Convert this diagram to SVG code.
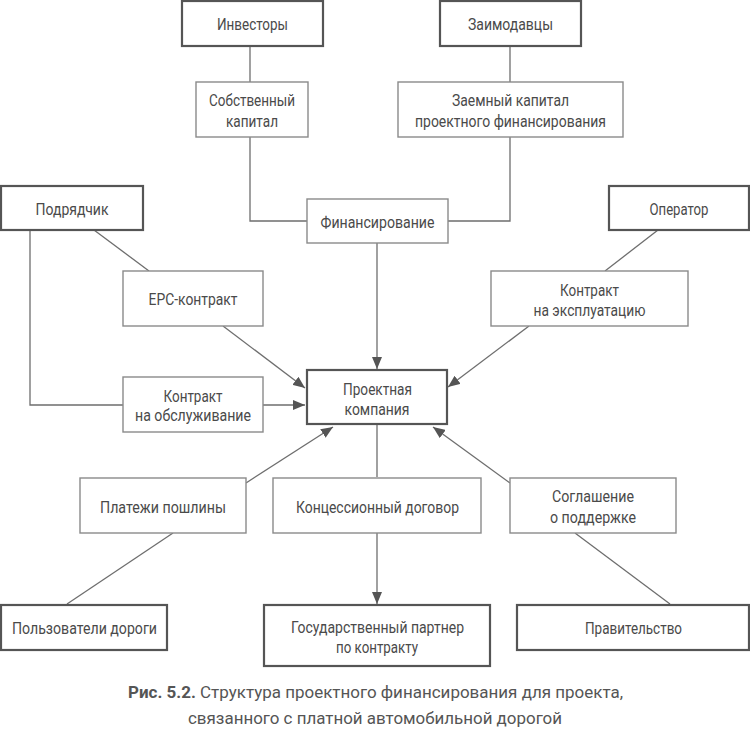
<svg xmlns="http://www.w3.org/2000/svg" width="750" height="729" viewBox="0 0 750 729">
<defs>
<marker id="arr" viewBox="0 0 12 10" refX="12" refY="5" markerWidth="12" markerHeight="10" markerUnits="userSpaceOnUse" orient="auto">
<path d="M0,0 L12,5 L0,10 Z" fill="#555"/>
</marker>
<style>
.main{fill:#fff;stroke:#555;stroke-width:2.2}
.sub{fill:#fff;stroke:#8a8a8a;stroke-width:1.4}
.t{font-family:Roboto,"Liberation Sans",sans-serif;font-size:17px;fill:#4a4a4a;text-anchor:middle}
.c{font-family:Roboto,"Liberation Sans",sans-serif;font-size:17px;fill:#555;text-anchor:middle}
.ln{fill:none;stroke:#6e6e6e;stroke-width:1.3}
.ar{fill:none;stroke:#6e6e6e;stroke-width:1.3;marker-end:url(#arr)}
</style>
</defs>
<rect width="750" height="729" fill="#fff"/>
<g id="connectors">
<path class="ln" d="M250,46 V82"/>
<path class="ln" d="M510,46 V82"/>
<path class="ln" d="M250,137 V221 H307"/>
<path class="ln" d="M510,137 V221 H448"/>
<path class="ar" d="M377,243 V369"/>
<path class="ln" d="M30,230 V405 H123"/>
<path class="ln" d="M94,230 L149,271"/>
<path class="ar" d="M223,326 L305,388"/>
<path class="ar" d="M263,405 L305,405"/>
<path class="ln" d="M658,230 L605,271"/>
<path class="ar" d="M529,326 L448,387"/>
<path class="ar" d="M246,483 L333,427"/>
<path class="ln" d="M173,533 L67,604"/>
<path class="ln" d="M377,424 V477"/>
<path class="ar" d="M377,533 V604"/>
<path class="ar" d="M510,483 L433,427"/>
<path class="ln" d="M575,533 L670,604"/>
</g>
<g id="investors"><rect class="main" x="182" y="1" width="141" height="45"/><text class="t" x="252.5" y="30" textLength="71" lengthAdjust="spacingAndGlyphs">Инвесторы</text></g>
<g id="lenders"><rect class="main" x="440" y="1" width="141" height="45"/><text class="t" x="510.5" y="30" textLength="85" lengthAdjust="spacingAndGlyphs">Заимодавцы</text></g>
<g id="equity"><rect class="sub" x="196" y="82" width="112" height="55"/><text class="t" x="252" y="106" textLength="86" lengthAdjust="spacingAndGlyphs">Собственный</text><text class="t" x="252" y="127" textLength="52" lengthAdjust="spacingAndGlyphs">капитал</text></g>
<g id="debt"><rect class="sub" x="398" y="82" width="225" height="55"/><text class="t" x="510.5" y="106" textLength="117" lengthAdjust="spacingAndGlyphs">Заемный капитал</text><text class="t" x="510.5" y="127" textLength="191" lengthAdjust="spacingAndGlyphs">проектного финансирования</text></g>
<g id="financing"><rect class="sub" x="307" y="199" width="141" height="44"/><text class="t" x="377.5" y="228" textLength="114" lengthAdjust="spacingAndGlyphs">Финансирование</text></g>
<g id="contractor"><rect class="main" x="1" y="186" width="142" height="44"/><text class="t" x="72" y="215" textLength="73" lengthAdjust="spacingAndGlyphs">Подрядчик</text></g>
<g id="operator"><rect class="main" x="609" y="186" width="140" height="44"/><text class="t" x="679" y="215" textLength="59" lengthAdjust="spacingAndGlyphs">Оператор</text></g>
<g id="epc"><rect class="sub" x="123" y="271" width="140" height="55"/><text class="t" x="193" y="305" textLength="89" lengthAdjust="spacingAndGlyphs">EPC-контракт</text></g>
<g id="service"><rect class="sub" x="123" y="377" width="140" height="55"/><text class="t" x="193" y="402" textLength="59" lengthAdjust="spacingAndGlyphs">Контракт</text><text class="t" x="193" y="421" textLength="116" lengthAdjust="spacingAndGlyphs">на обслуживание</text></g>
<g id="operation"><rect class="sub" x="491" y="271" width="197" height="55"/><text class="t" x="589.5" y="296" textLength="59" lengthAdjust="spacingAndGlyphs">Контракт</text><text class="t" x="589.5" y="316" textLength="112" lengthAdjust="spacingAndGlyphs">на эксплуатацию</text></g>
<g id="project"><rect class="main" x="307" y="370" width="140" height="54"/><text class="t" x="377.5" y="395" textLength="69" lengthAdjust="spacingAndGlyphs">Проектная</text><text class="t" x="377" y="415" textLength="65" lengthAdjust="spacingAndGlyphs">компания</text></g>
<g id="tolls"><rect class="sub" x="80" y="478" width="166" height="55"/><text class="t" x="163" y="513" textLength="126" lengthAdjust="spacingAndGlyphs">Платежи пошлины</text></g>
<g id="concession"><rect class="sub" x="273" y="478" width="208" height="55"/><text class="t" x="377.5" y="513" textLength="163" lengthAdjust="spacingAndGlyphs">Концессионный договор</text></g>
<g id="support"><rect class="sub" x="510" y="478" width="166" height="55"/><text class="t" x="593" y="502" textLength="82" lengthAdjust="spacingAndGlyphs">Соглашение</text><text class="t" x="593" y="523" textLength="86" lengthAdjust="spacingAndGlyphs">о поддержке</text></g>
<g id="users"><rect class="main" x="1" y="605" width="166" height="45"/><text class="t" x="84.5" y="634" textLength="145" lengthAdjust="spacingAndGlyphs">Пользователи дороги</text></g>
<g id="partner"><rect class="main" x="264" y="605" width="226" height="61"/><text class="t" x="377.5" y="633" textLength="173" lengthAdjust="spacingAndGlyphs">Государственный партнер</text><text class="t" x="377" y="653" textLength="82" lengthAdjust="spacingAndGlyphs">по контракту</text></g>
<g id="government"><rect class="main" x="517" y="605" width="232" height="45"/><text class="t" x="633.5" y="634" textLength="97" lengthAdjust="spacingAndGlyphs">Правительство</text></g>
<g id="caption">
<text class="c" x="375.5" y="698" textLength="495" lengthAdjust="spacingAndGlyphs"><tspan font-weight="bold">Рис. 5.2.</tspan> Структура проектного финансирования для проекта,</text>
<text class="c" x="375" y="724" textLength="374" lengthAdjust="spacingAndGlyphs">связанного с платной автомобильной дорогой</text>
</g>
</svg>
